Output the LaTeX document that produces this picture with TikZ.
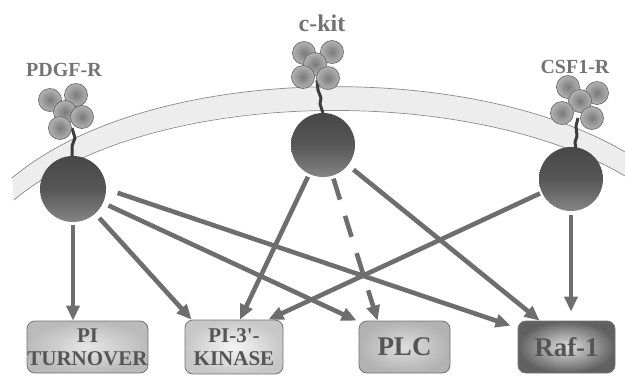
\documentclass[tikz,border=0pt]{standalone}
\usepackage{fontspec}
\setmainfont{Liberation Serif}
\usetikzlibrary{arrows.meta,calc}

\definecolor{arrowgray}{HTML}{6E6E6E}
\definecolor{labelgray}{HTML}{737373}
\definecolor{boxtext}{HTML}{555555}
\definecolor{membfill}{HTML}{EDEDED}
\definecolor{membline}{HTML}{8A8A8A}
\definecolor{stalkgray}{HTML}{3C3C3C}

\tikzset{
  receptorlabel/.style={text=labelgray, font=\bfseries\fontsize{20}{24}\selectfont, inner sep=0pt},
  body/.style={circle, inner sep=0pt, minimum size=#1, shading=axis,
    top color=black!72, bottom color=black!48, middle color=black!66},
  ligand/.style={draw=black!62, line width=0.6pt, inner color=black!52, outer color=black!30},
  stalk/.style={draw=stalkgray, line width=3pt, line join=round},
  box/.style={draw=black!55, line width=0.8pt, rounded corners=8pt, align=center,
    text=boxtext, inner sep=0pt},
  smallbox/.style={box, font=\bfseries\fontsize{21}{23}\selectfont},
  bigbox/.style={box, font=\bfseries\fontsize{27}{30}\selectfont},
  arr/.style={draw=arrowgray, line width=4.6pt, -{Triangle[length=15pt,width=13pt]}},
}

\begin{document}
\begin{tikzpicture}[x=1pt, y=-1pt]
\useasboundingbox (0,0) rectangle (625,376);

% cell membrane band
\fill[membfill] (12,178) .. controls (150,62) and (470,60) .. (625,152)
  -- (625,176) .. controls (470,84) and (150,84) .. (14,200) -- cycle;
\draw[membline, line width=0.7pt] (12,178) .. controls (150,62) and (470,60) .. (625,152);
\draw[membline, line width=0.7pt] (14,200) .. controls (150,86) and (470,84) .. (625,176);

% receptor names
\node[receptorlabel] (lpdgf) at (64,70) {PDGF-R};
\node[receptorlabel, font=\bfseries\fontsize{24}{28}\selectfont] (lckit) at (322,23) {c-kit};
\node[receptorlabel] (lcsf) at (575,67) {CSF1-R};

% transmembrane stalks
\draw[stalk] (72,128) -- (75,138) -- (72,146) -- (72,158);
\draw[stalk] (317,80) -- (318,90) -- (321,98) -- (320,104) -- (323,113);
\draw[stalk] (578,118) -- (576,126) -- (577,136) -- (575,142) -- (576,150);

% ligand clusters
\foreach \p in {(50,100),(76,95),(65,112),(82,117),(60,128)}
  \shade[ligand] \p circle (11.5);
\foreach \p in {(304,53),(332,52),(315,64),(303,77),(328,78)}
  \shade[ligand] \p circle (11.5);
\foreach \p in {(568,87),(597,93),(580,101),(562,113),(592,118)}
  \shade[ligand] \p circle (11.5);

% intracellular kinase domains
\node[body=66pt] (pdgf) at (73,189) {};
\node[body=64pt] (ckit) at (323,145) {};
\node[body=64pt] (csf) at (571,179) {};

% signalling targets
\node[smallbox, minimum width=121pt, minimum height=52pt,
      inner color=black!10, outer color=black!27] (turn) at (87.5,347) {PI\\TURNOVER};
\node[smallbox, minimum width=98pt, minimum height=54pt,
      inner color=black!4, outer color=black!22] (kin) at (234,347) {PI-3\textquotesingle-\\KINASE};
\node[bigbox, minimum width=91pt, minimum height=52pt,
      inner color=black!13, outer color=black!30] (plc) at (404.5,347) {PLC};
\node[bigbox, minimum width=97pt, minimum height=52pt,
      inner color=black!12, outer color=black!62] (raf) at (566.5,347) {Raf-1};

% pathways from PDGF-R
\draw[arr, shorten <=3pt] (pdgf.south) -- (pdgf.south |- turn.north);
\draw[arr, shorten <=6pt] (pdgf) -- ($(kin.north west)+(7,0)$);
\draw[arr, shorten <=6pt] (pdgf) -- ($(plc.north west)+(-2,0)$);
\draw[arr, shorten <=12pt] (pdgf.0) -- ($(raf.north west)+(-7,5)$);

% pathways from c-kit
\draw[arr, shorten <=3pt] (ckit) -- ($(kin.north)+(6,0)$);
\draw[arr, shorten <=3pt, dash pattern=on 22pt off 17pt] (ckit) -- ($(plc.north west)+(19,0)$);
\draw[arr, shorten <=7pt] (ckit) -- ($(raf.north west)+(22,0)$);

% pathways from CSF1-R
\draw[arr, shorten <=2pt] (csf) -- ($(kin.north east)+(-15,0)$);
\draw[arr, shorten <=4pt, shorten >=9pt] (csf.south) -- (csf.south |- raf.north);
\end{tikzpicture}
\end{document}
